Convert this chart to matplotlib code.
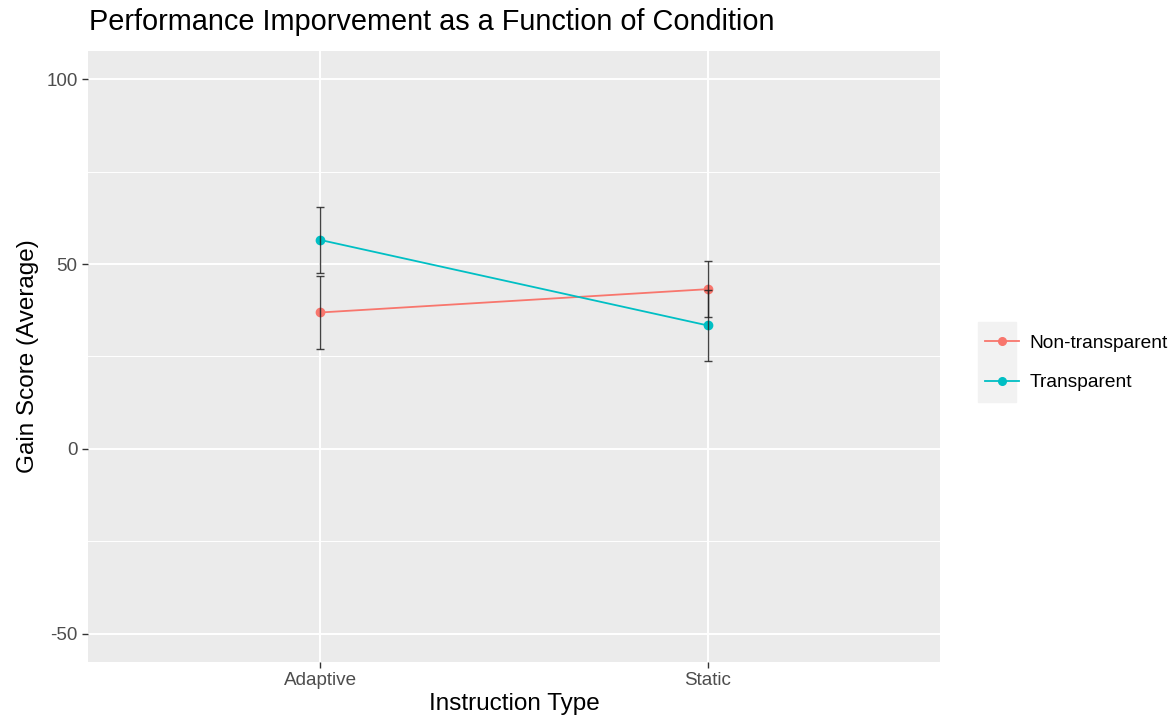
import matplotlib
matplotlib.use('Agg')
import matplotlib.pyplot as plt
from matplotlib.lines import Line2D

plt.rcParams['font.family'] = ['Liberation Sans', 'DejaVu Sans']
plt.rcParams['axes.unicode_minus'] = False

# data
instruction = ['Adaptive', 'Static']
groups = ['Non-transparent', 'Transparent']
colors = ['#F8766D', '#00BFC4']
means = {
    'Non-transparent': [36.9, 43.2],
    'Transparent': [56.5, 33.4],
}
errors = {
    'Non-transparent': [9.9, 7.6],
    'Transparent': [9.0, 9.7],
}
yticks = [-50, 0, 50, 100]
yminor = [-25, 25, 75]

W, H = 1173, 725
fig = plt.figure(figsize=(W / 100, H / 100), dpi=100)
ax = fig.add_axes([88 / W, (H - 661.7) / H, (940 - 88) / W, (661.7 - 51.3) / H])
ax.set_facecolor('#EBEBEB')

xpos = list(range(1, len(instruction) + 1))

# grid
for y in yminor:
    ax.axhline(y, color='white', lw=0.7, zorder=0)
for y in yticks:
    ax.axhline(y, color='white', lw=1.4, zorder=0)
for x in xpos:
    ax.axvline(x, color='white', lw=1.4, zorder=0)

for g, c in zip(groups, colors):
    ax.plot(xpos, means[g], color=c, lw=1.3, marker='o', ms=6, zorder=3)
    ax.errorbar(xpos, means[g], yerr=errors[g], fmt='none', ecolor='#222222',
                elinewidth=1.0, capsize=3, capthick=1.0, zorder=4, alpha=0.85)

ax.set_xlim(0.4, 2.6)
ax.set_ylim(-57.5, 107.5)
ax.set_xticks(xpos)
ax.set_xticklabels(instruction)
ax.set_yticks(yticks)
ax.tick_params(axis='both', colors='#333333', labelcolor='#4D4D4D',
               labelsize=13.6, length=4, width=1)
for s in ax.spines.values():
    s.set_visible(False)

ax.set_xlabel('Instruction Type', fontsize=17.5, labelpad=3)
ax.set_ylabel('Gain Score (Average)', fontsize=17.5, labelpad=5)
fig.text(89 / W, 1 - 22 / H, 'Performance Imporvement as a Function of Condition',
         fontsize=20.8, ha='left', va='center')

handles = [Line2D([0], [0], color=c, lw=1.3, marker='o', ms=5.5) for c in colors]
leg = fig.legend(handles, groups, loc='center left', bbox_to_anchor=(977 / W, 1 - 363 / H),
                 frameon=False, fontsize=13.8, handlelength=1.8, labelspacing=1.15,
                 handletextpad=0.55, borderaxespad=0)
fig.patches.append(plt.Rectangle((978 / W, 1 - 402 / H), 38 / W, 80 / H,
                                 transform=fig.transFigure, color='#F2F2F2', zorder=-1))

fig.savefig('out.png', dpi=100)
